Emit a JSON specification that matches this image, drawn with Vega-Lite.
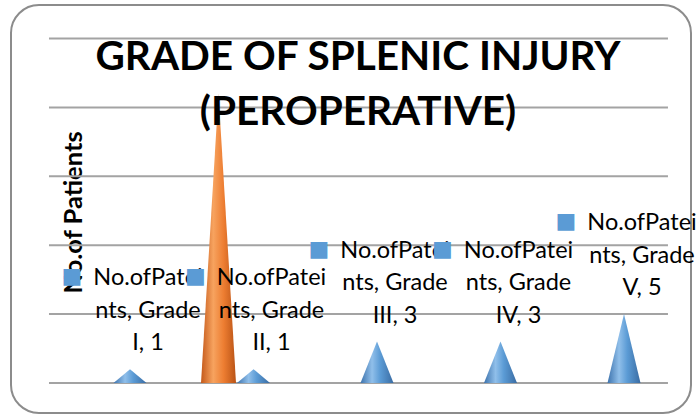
{
  "$schema": "https://vega.github.io/schema/vega-lite/v6.json",
  "width": 680,
  "height": 408,
  "autosize": {"type": "none"},
  "padding": {"left": 11, "top": 5, "right": 5, "bottom": 4},
  "background": "white",
  "config": {
    "view": {"stroke": "#8c8c8c", "strokeWidth": 2, "cornerRadius": 28, "fill": "white"},
    "font": "Lato"
  },
  "title": {
    "text": ["GRADE OF SPLENIC INJURY", "(PEROPERATIVE)"],
    "font": "Lato",
    "fontSize": 40.5,
    "fontWeight": "bold",
    "color": "black",
    "anchor": "middle",
    "frame": "group",
    "lineHeight": 55,
    "offset": -128,
    "dx": 7,
    "zindex": 1
  },
  "datasets": {
    "cones": [
      {"grade": "Grade I", "series": "No.ofPateints", "value": 1},
      {"grade": "Grade II", "series": "No.ofPateints", "value": 1},
      {"grade": "Grade III", "series": "No.ofPateints", "value": 3},
      {"grade": "Grade IV", "series": "No.ofPateints", "value": 3},
      {"grade": "Grade V", "series": "No.ofPateints", "value": 5},
      {"grade": "Grade II", "series": "Series2", "value": 21}
    ],
    "grid": [{"tick": 0}, {"tick": 5}, {"tick": 10}, {"tick": 15}, {"tick": 20}, {"tick": 25}]
  },
  "data": {"name": "cones"},
  "transform": [
    {"calculate": "indexof(['Grade I','Grade II','Grade III','Grade IV','Grade V'], datum.grade)", "as": "idx"}
  ],
  "layer": [
    {
      "data": {"name": "grid"},
      "transform": [],
      "mark": {"type": "rule", "color": "#a3a3a3", "strokeWidth": 2},
      "encoding": {
        "x": {"datum": -0.656, "type": "quantitative", "axis": null,
          "scale": {"domain": [-0.9636, 4.5425], "nice": false, "zero": false}},
        "x2": {"datum": 4.356},
        "y": {
          "field": "tick", "type": "quantitative",
          "scale": {"domain": [-2.18, 27.43], "nice": false, "zero": false},
          "axis": {
            "grid": false, "labels": false, "ticks": false, "domain": false,
            "title": "No.of Patients",
            "titleFont": "Lato", "titleFontSize": 25.5, "titleFontWeight": "bold", "titleColor": "black",
            "titleAngle": -90, "titleX": 62, "titleY": 207, "titleAlign": "center", "titleBaseline": "middle"
          }
        }
      }
    },
    {
      "transform": [
        {"filter": "datum.series === 'No.ofPateints'"},
        {"calculate": "[-1, 0, 1]", "as": "side"},
        {"flatten": ["side"]},
        {"calculate": "datum.idx + datum.side * 0.1336", "as": "xs"},
        {"calculate": "datum.side === 0 ? datum.value : 0", "as": "yv"}
      ],
      "mark": {
        "type": "area",
        "color": {
          "gradient": "linear", "x1": 0, "x2": 1, "y1": 0, "y2": 0,
          "stops": [
            {"offset": 0, "color": "#3d73ad"},
            {"offset": 0.35, "color": "#90bfea"},
            {"offset": 0.6, "color": "#5b9bd5"},
            {"offset": 1, "color": "#3a6ca3"}
          ]
        }
      },
      "encoding": {
        "x": {"field": "xs", "type": "quantitative"},
        "y": {"field": "yv", "type": "quantitative", "stack": null},
        "detail": {"field": "grade", "type": "nominal"}
      }
    },
    {
      "transform": [
        {"filter": "datum.series === 'Series2'"},
        {"calculate": "[-1, 0, 1]", "as": "side"},
        {"flatten": ["side"]},
        {"calculate": "datum.idx - 0.2834 + datum.side * 0.1417", "as": "xs"},
        {"calculate": "datum.side === 0 ? datum.value : 0", "as": "yv"}
      ],
      "mark": {
        "type": "area",
        "color": {
          "gradient": "linear", "x1": 0, "x2": 1, "y1": 0, "y2": 0,
          "stops": [
            {"offset": 0, "color": "#c4591a"},
            {"offset": 0.35, "color": "#f7a35f"},
            {"offset": 0.65, "color": "#ed7d31"},
            {"offset": 1, "color": "#b95316"}
          ]
        }
      },
      "encoding": {
        "x": {"field": "xs", "type": "quantitative"},
        "y": {"field": "yv", "type": "quantitative", "stack": null},
        "detail": {"field": "grade", "type": "nominal"}
      }
    },
    {
      "transform": [
        {"filter": "datum.series === 'No.ofPateints'"},
        {"calculate": "'No.ofPatei\\nnts, Grade\\n' + split(datum.grade, ' ')[1] + ', ' + datum.value", "as": "label"}
      ],
      "mark": {"type": "text", "align": "center", "baseline": "middle", "dx": 18, "dy": -91, "fontSize": 23.5, "lineHeight": 32.5, "lineBreak": "\n", "color": "black", "font": "Lato"},
      "encoding": {
        "x": {"field": "idx", "type": "quantitative"},
        "y": {"field": "value", "type": "quantitative"},
        "text": {"field": "label"}
      }
    },
    {
      "transform": [
        {"filter": "datum.series === 'No.ofPateints'"},
        {"calculate": "'■'", "as": "key"}
      ],
      "mark": {"type": "text", "align": "center", "baseline": "middle", "dx": -58, "dy": -93, "fontSize": 22, "color": "#5b9bd5", "font": "DejaVu Sans"},
      "encoding": {
        "x": {"field": "idx", "type": "quantitative"},
        "y": {"field": "value", "type": "quantitative"},
        "text": {"field": "key"}
      }
    }
  ]
}
